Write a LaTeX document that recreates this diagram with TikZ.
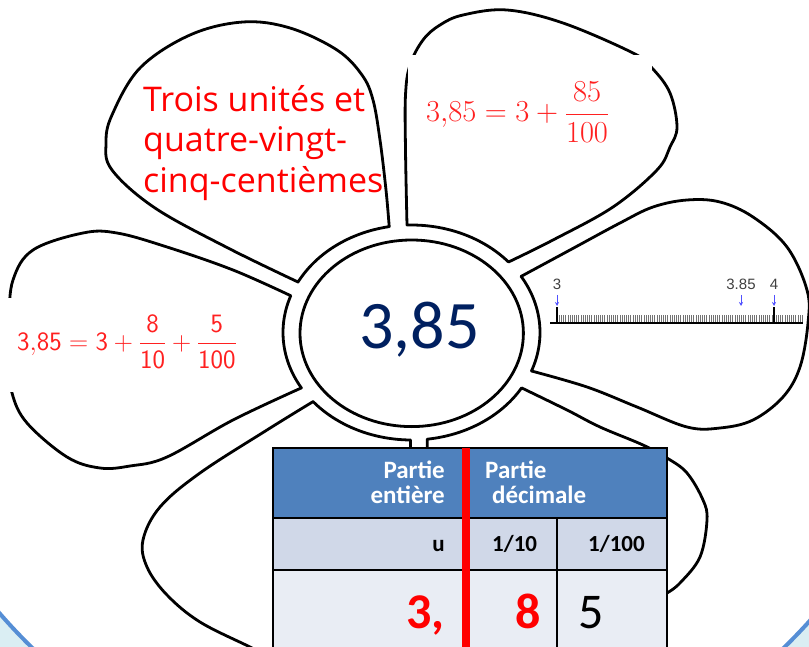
\RequirePackage{fix-cm}
\documentclass[tikz,border=0pt]{standalone}
\usepackage{fontspec}
\usepackage{amsmath}
\newfontfamily\carlito{Carlito}
\newfontfamily\osans{Open Sans}
\newfontfamily\lsans{Liberation Sans}
\usetikzlibrary{arrows.meta,shapes.geometric}
\definecolor{navy}{HTML}{002060}
\definecolor{hdrblue}{HTML}{4F81BD}
\definecolor{rowtwo}{HTML}{D0D8E8}
\definecolor{rowthree}{HTML}{E9EDF4}
\definecolor{bgblue}{HTML}{DAEEF3}
\definecolor{ringblue}{HTML}{558ED5}
\definecolor{arrowblue}{HTML}{5050FF}
\definecolor{mathred}{HTML}{FF2020}
\tikzset{
  petal/.style={draw=black, line width=2.8pt, line join=round},
  tabline/.style={draw=black, line width=2.5pt},
  redtxt/.style={anchor=base west, inner sep=0pt, text=red, font=\osans\fontsize{34}{40}\selectfont},
  hdr/.style={inner sep=0pt, text=white, font=\carlito\bfseries\fontsize{25}{26}\selectfont},
  sub/.style={inner sep=0pt, text=black, font=\carlito\bfseries\fontsize{23}{25}\selectfont},
  big/.style={inner sep=0pt, font=\carlito\fontsize{50}{55}\selectfont},
  numlab/.style={anchor=base, inner sep=0pt, text=black!75, font=\lsans\fontsize{15}{17}\selectfont},
  blarrow/.style={draw=arrowblue, line width=0.8pt, -{Stealth[length=4pt,width=4pt]}}
}
\begin{document}
\begin{tikzpicture}[x=1pt,y=-1pt]
\useasboundingbox (0,0) rectangle (809,647);
\clip (0,0) rectangle (809,647);
% background
\fill[bgblue] (0,0) rectangle (809,647);
\filldraw[fill=white, draw=ringblue, line width=4pt] (408,260) circle [radius=540pt];

% petals
% top-right
\draw[petal] plot[smooth, tension=0.6] coordinates {(407,225.1) (405.5,150) (405.5,95) (410,65) (423,40) (440,25) (463,15) (507,10) (563,23) (633,53) (652,68) (670,93) (677,127) (670,147) (657,170) (613,207) (553,240) (508.5,262)}
  -- plot[domain=41:92, samples=30] ({411.5+128.5*cos(\x)},{332.5-107.5*sin(\x)}) -- cycle;
% top-left
\draw[petal] plot[smooth, tension=0.6] coordinates {(389.2,226.6) (386,190) (380,140) (373,100) (362,75) (337,50) (290,28) (243,22) (190,35) (140,68) (112,115) (106,143) (112,170) (155,208) (228,248) (298,282)}
  -- plot[domain=152:100, samples=30] ({411.5+128.5*cos(\x)},{332.5-107.5*sin(\x)}) -- cycle;
% left
\draw[petal] plot[smooth, tension=0.6] coordinates {(290.7,295.7) (233,270) (167,247) (117,233) (83,233) (33,250) (13,280) (9,320) (9,360) (12,393) (27,423) (67,457) (100,468) (130,466) (167,457) (233,420) (301.4,387.9)}
  -- plot[domain=211:160, samples=30] ({411.5+128.5*cos(\x)},{332.5-107.5*sin(\x)}) -- cycle;
% right
\draw[petal] plot[smooth, tension=0.6] coordinates {(531.5,371) (587,387) (637,407) (687,427) (720,428) (753,420) (783,397) (800,367) (808,323) (807,290) (787,247) (753,217) (720,202) (687,200) (653,207) (620,223) (570,250) (521.1,276.4)}
  -- plot[domain=31.5:-21, samples=30] ({411.5+128.5*cos(\x)},{332.5-107.5*sin(\x)}) -- cycle;
% bottom-right
\draw[petal] plot[smooth, tension=0.6] coordinates {(521.6,387.9) (567,410) (600,427) (643,445) (667,458) (687,473) (703,500) (707,520) (700,557) (680,583) (667,593)}
  -- (640,625) -- (427.2,625) -- (427.2,439.2)
  -- plot[domain=-83:-31, samples=30] ({411.5+128.5*cos(\x)},{332.5-107.5*sin(\x)}) -- cycle;
% bottom-left
\draw[petal] plot[smooth, tension=0.6] coordinates {(313.1,401.6) (267,430) (200,473) (160,507) (143,540) (147,567) (167,595) (200,622) (250,647) (275,660)}
  -- (300,700) -- (410.4,700) -- (410.4,440)
  -- plot[domain=-90.5:-140, samples=30] ({411.5+128.5*cos(\x)},{332.5-107.5*sin(\x)}) -- cycle;

% centre
\node[ellipse, draw=black, line width=2.8pt, minimum width=223.4pt, minimum height=186.6pt, inner sep=0pt] (heart) at (411.7,333.3) {};
\node[anchor=base, inner sep=0pt, text=navy, font=\carlito\fontsize{68}{80}\selectfont] (val) at (419.5,348) {3,85};

% white backgrounds of the pasted formulas
\fill[white] (408,55) rectangle (652,165);
\fill[white] (0,298) rectangle (240,392);

% texts
\node[redtxt] (t1) at (143,112) {Trois unités et};
\node[redtxt] (t2) at (143,152) {quatre-vingt-};
\node[redtxt] (t3) at (143,193) {cinq-centièmes};

\node[anchor=base west, inner sep=0pt, text=mathred, font=\fontsize{30.5}{36}\selectfont] (fa) at (426,122)
  {$\displaystyle 3{,}85 = 3 + \frac{85}{100}$};
\node[anchor=base west, inner sep=0pt, text=mathred, font=\fontsize{26.5}{31}\selectfont] (fb) at (17,350)
  {$\displaystyle \mathsf{3{,}85} = \mathsf{3} + \frac{\mathsf{8}}{\mathsf{10}} + \frac{\mathsf{5}}{\mathsf{100}}$};

% number line
\coordinate (axl) at (550,323);
\coordinate (axr) at (803,323);
\foreach \i in {1,...,113} {
  \draw[draw=black!55, line width=0.6pt] ({557+\i*2.17},315) -- ({557+\i*2.17},322);
}
\draw[line width=2.5pt] (axl) -- (axr);
\coordinate (m3) at (557,307);
\coordinate (m3b) at (557,323);
\coordinate (m4) at (774,307);
\coordinate (m4b) at (774,323);
\draw[line width=1.6pt] (m3) -- (m3b);
\draw[line width=1.6pt] (m4) -- (m4b);
\node[numlab] (l3) at (557,290) {3};
\node[numlab] (l385) at (741,290) {3.85};
\node[numlab] (l4) at (774,290) {4};
\coordinate (a3s) at (557,295); \coordinate (a3e) at (557,306);
\coordinate (a85s) at (741,295); \coordinate (a85e) at (741,306);
\coordinate (a4s) at (774,295); \coordinate (a4e) at (774,306);
\draw[blarrow] (a3s) -- (a3e);
\draw[blarrow] (a85s) -- (a85e);
\draw[blarrow] (a4s) -- (a4e);

% table
\fill[hdrblue] (273,448) rectangle (667,518);
\fill[rowtwo] (273,518) rectangle (667,570);
\fill[rowthree] (273,570) rectangle (667,660);
\draw[tabline] (273,660) -- (273,448) -- (667,448) -- (667,660);
\draw[tabline] (273,518) -- (667,518);
\draw[tabline] (273,570) -- (667,570);
\draw[tabline] (557,518) -- (557,660);
\draw[red, line width=7.5pt] (466,448) -- (466,660);

\node[hdr, anchor=base east] (h1) at (445,478) {Partie};
\node[hdr, anchor=base east] (h2) at (445,503) {entière};
\node[hdr, anchor=base west] (h3) at (485,478) {Partie};
\node[hdr, anchor=base west] (h4) at (492,503) {décimale};
\node[sub, anchor=base east] (u) at (445,551) {u};
\node[sub, anchor=base west] (d1) at (492,551) {1/10};
\node[sub, anchor=base west] (d2) at (588,551) {1/100};
\node[big, anchor=base east, text=red, font=\carlito\bfseries\fontsize{50}{55}\selectfont] (c1) at (445,628) {3,};
\node[big, anchor=base west, text=red, font=\carlito\bfseries\fontsize{50}{55}\selectfont] (c2) at (515,628) {8};
\node[big, anchor=base west, text=black] (c3) at (578,628) {5};
\end{tikzpicture}
\end{document}
